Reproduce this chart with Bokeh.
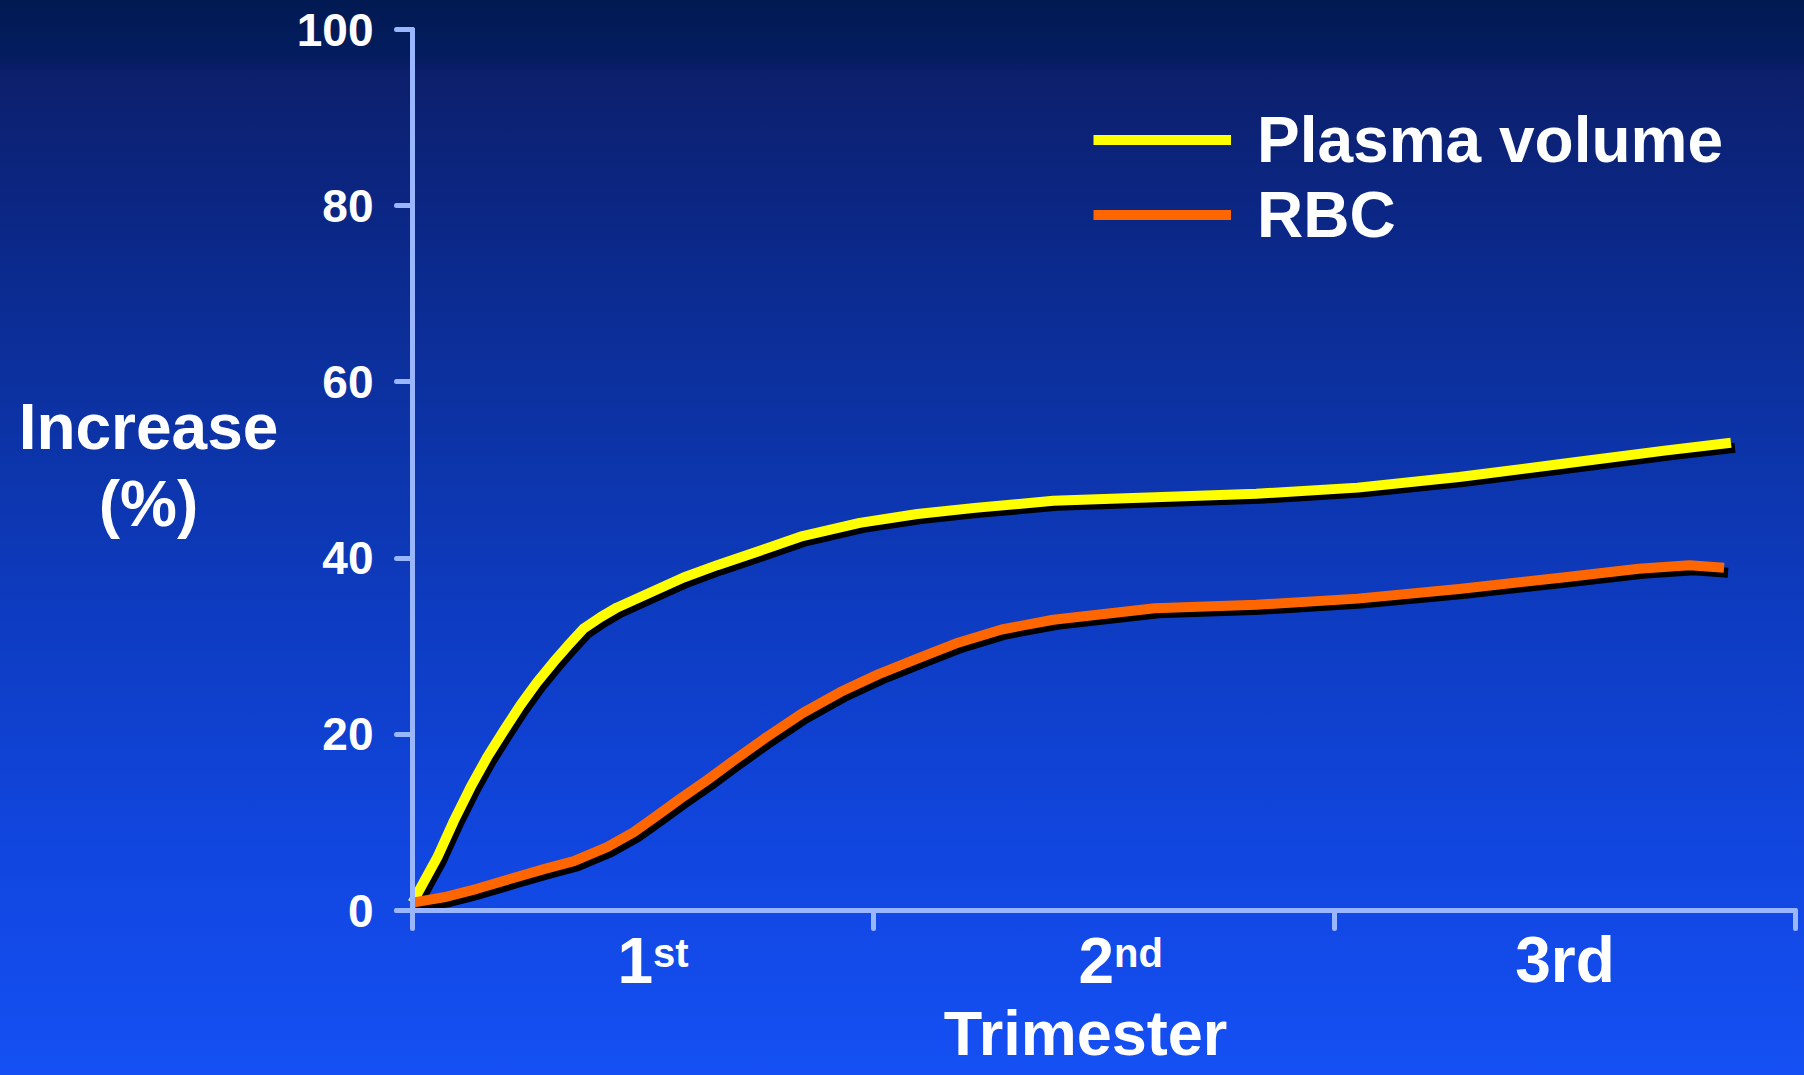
import numpy as np
from bokeh.plotting import figure
from bokeh.models import Range1d, FixedTicker, Label, Legend, LegendItem, CustomJSTickFormatter
from bokeh.embed import file_html
from bokeh.resources import INLINE

# ---------------- data ----------------
trimester_main = ["1", "2", "3rd"]
trimester_sup = ["st", "nd", ""]
trimester_edges = [0, 1, 2, 3]
y_ticks = [0, 20, 40, 60, 80, 100]

plasma_x = [0.0, 0.054, 0.09, 0.126, 0.162, 0.198, 0.234, 0.27, 0.306, 0.336,
            0.371, 0.408, 0.444, 0.516, 0.588, 0.661, 0.763, 0.846, 0.97, 1.095,
            1.22, 1.39, 1.61, 1.83, 2.05, 2.27, 2.495, 2.716, 2.86]
plasma_y = [0.9, 6.05, 10.2, 14.0, 17.4, 20.4, 23.3, 25.9, 28.2, 30.0,
            32.0, 33.3, 34.4, 36.1, 37.8, 39.2, 41.0, 42.5, 44.0, 45.0,
            45.7, 46.5, 46.9, 47.3, 48.0, 49.2, 50.7, 52.2, 53.1]

rbc_x = [0.0, 0.068, 0.14, 0.213, 0.285, 0.35, 0.422, 0.48, 0.531, 0.581,
         0.639, 0.696, 0.763, 0.846, 0.928, 1.01, 1.095, 1.178, 1.278, 1.39,
         1.61, 1.83, 2.05, 2.27, 2.495, 2.66, 2.77, 2.845]
rbc_y = [0.9, 1.5, 2.46, 3.6, 4.7, 5.6, 7.2, 8.9, 10.8, 12.7,
         14.8, 17.0, 19.5, 22.4, 24.8, 26.8, 28.6, 30.3, 31.9, 33.0,
         34.3, 34.7, 35.4, 36.5, 37.8, 38.8, 39.2, 38.9]

series_names = ["Plasma volume", "RBC"]

# ---------------- layout / style ----------------
W, H = 1800, 1070
AXL, AXR, AYT, AYB = 412, 1795, 29, 910       # canvas px of x=0, x=3, y=100, y=0
X0, X1, Y0, Y1 = 0, 3, 0, 100
sx_per = (AXR - AXL) / (X1 - X0)
sy_per = (AYB - AYT) / (Y1 - Y0)
AX = "#9ab6ff"
YELLOW = "#ffff00"
ORANGE = "#ff6600"
FONT = "Liberation Sans"

p = figure(width=W, height=H, output_backend="svg", toolbar_location=None,
           x_range=Range1d(X0 - AXL / sx_per, X1 + (W - AXR) / sx_per),
           y_range=Range1d(Y0 - (H - AYB) / sy_per, Y1 + AYT / sy_per),
           min_border=0, min_border_left=0, min_border_right=0,
           min_border_top=0, min_border_bottom=0)
p.background_fill_color = None
p.border_fill_color = None
p.outline_line_color = None
p.xgrid.grid_line_color = None
p.ygrid.grid_line_color = None

p.xaxis.fixed_location = Y0
p.yaxis.fixed_location = X0
p.xaxis.bounds = (X0 - 16 / sx_per, X1)
p.yaxis.bounds = (Y0, Y1)
p.yaxis.ticker = FixedTicker(ticks=y_ticks)
p.xaxis.ticker = FixedTicker(ticks=trimester_edges)
p.xaxis.formatter = CustomJSTickFormatter(code="return ''")
for ax in (p.xaxis[0], p.yaxis[0]):
    ax.axis_line_color = AX
    ax.axis_line_width = 5
    ax.axis_line_cap = "round"
    ax.major_tick_line_color = AX
    ax.major_tick_line_width = 5
    ax.major_tick_line_cap = "round"
    ax.major_tick_in = 0
    ax.minor_tick_line_color = None
p.yaxis.major_tick_out = 16
p.xaxis.major_tick_out = 18
p.yaxis.major_label_text_font = FONT
p.yaxis.major_label_text_font_style = "bold"
p.yaxis.major_label_text_font_size = "46px"
p.yaxis.major_label_text_color = "white"
p.yaxis.major_label_standoff = 23


def to_data(cx, cy):
    return X0 + (cx - AXL) / sx_per, Y0 + (AYB - cy) / sy_per


# curves with a drop shadow
dx, dy = 4 / sx_per, 5 / sy_per
px_, py_ = np.array(plasma_x), np.array(plasma_y)
rx_, ry_ = np.array(rbc_x), np.array(rbc_y)
kw = dict(line_width=10, line_cap="butt", line_join="round")
p.line(px_ + dx, py_ - dy, line_color="black", **kw)
r_plasma = p.line(px_, py_, line_color=YELLOW, **kw)
p.line(rx_ + dx, ry_ - dy, line_color="black", **kw)
r_rbc = p.line(rx_, ry_, line_color=ORANGE, **kw)

legend = Legend(items=[LegendItem(label=series_names[0], renderers=[r_plasma]),
                       LegendItem(label=series_names[1], renderers=[r_rbc])],
                location=(1093, H - 252), orientation="vertical",
                glyph_width=138, glyph_height=75, label_height=75, label_standoff=26,
                spacing=0, padding=0, margin=0, border_line_color=None,
                background_fill_alpha=0, label_text_font=FONT,
                label_text_font_style="bold", label_text_font_size="64px",
                label_text_color="white")
p.add_layout(legend)


def add_text(text, cx, cy, size, align="center"):
    # cy is the wanted baseline; Label anchors ~0.36 em above it
    fs = float(size.replace("px", ""))
    x, y = to_data(cx, cy - 0.36 * fs)
    p.add_layout(Label(x=x, y=y, text=text, text_color="white", text_font=FONT,
                       text_font_style="bold", text_font_size=size,
                       text_align=align, text_baseline="alphabetic"))


# category labels with superscripts
for i, (main, sup) in enumerate(zip(trimester_main, trimester_sup)):
    cx = AXL + (i + 0.5) * sx_per
    if sup:
        add_text(main, cx + 10, 983, "64px", align="right")
        add_text(sup, cx + 10, 967, "40px", align="left")
    else:
        add_text(main, cx, 983, "64px", align="center")

# axis titles
add_text("Trimester", 1085, 1055, "63px")
add_text("Increase", 148, 450, "64px")
add_text("(%)", 148, 527, "64px")

html = file_html(p, INLINE, title="Plasma volume and RBC increase by trimester")
css = ("<style>html{min-height:100%;background:linear-gradient(180deg,#011a52 0%,#031c5e 5%,"
       "#0c1f6c 7%,#0b2785 20%,#0c33a6 40%,#0e3dc5 60%,#1146e0 80%,#1550f4 100%) fixed;}"
       "body{background:transparent;}</style>")
html = html.replace("</head>", css + "</head>", 1)
open("out.html", "w").write(html)
